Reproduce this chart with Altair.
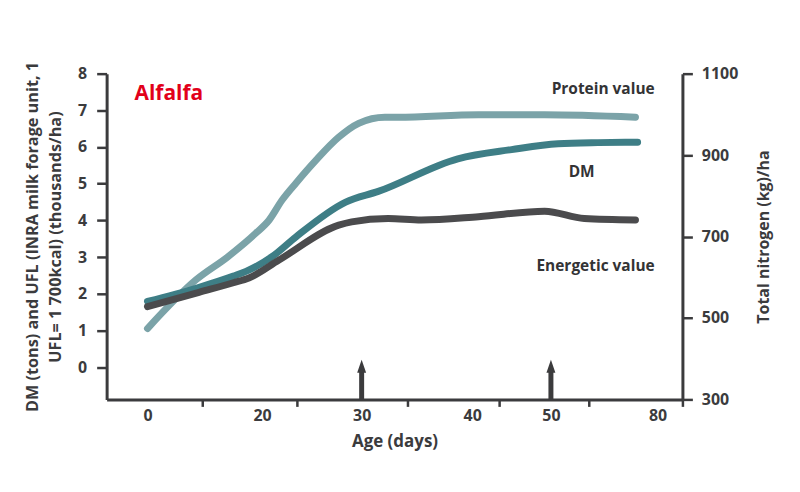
import altair as alt
import pandas as pd

# ---------------- data ----------------
AGE_LABELS = [0, 20, 30, 40, 50, 80]
AGE_MINOR_TICKS = [9.6, 23.5, 34.1, 43.4, 60.7, 87]
# the printed age axis is not linear: piecewise mapping of days -> plot pixels
X_DOMAIN = [-7.13, 0, 20, 30, 40, 50, 80, 87]
X_RANGE = [0, 41, 156, 256, 367, 446, 553, 578]

protein_days = [0, 8.5, 14.0, 18.9, 20.7, 22.0, 23.4, 25.4, 27.7, 29.7, 32.1, 33.3, 40.8, 49.2, 73.8]
protein_nitrogen = [474, 594, 650, 708, 740, 789, 831, 887, 944, 978, 993, 993, 999, 999, 993]

dm_days = [0, 8.5, 15.0, 17.2, 21.0, 23.4, 28.4, 31.5, 38.7, 45.0, 52.0, 63.2, 74.4]
dm_values = [1.79, 2.15, 2.48, 2.61, 3.01, 3.55, 4.50, 4.79, 5.68, 5.93, 6.09, 6.12, 6.13]

energy_days = [0, 9.0, 15.0, 17.7, 21.7, 27.7, 29.0, 32.4, 35.4, 40.8, 49.2, 59.4, 73.8]
energy_values = [1.65, 2.04, 2.30, 2.43, 2.92, 3.87, 3.96, 4.05, 4.01, 4.10, 4.25, 4.05, 4.01]

cut_days = [30, 50]

LEFT_TICKS = [0, 1, 2, 3, 4, 5, 6, 7, 8]
RIGHT_TICKS = [300, 500, 700, 900, 1100]

series_labels = ["Protein value", "DM", "Energetic value"]
series_label_day = [79.2, 62.3, 79.2]
series_label_value = [7.57, 5.31, 2.76]

# ---------------- styling ----------------
FONT = "Open Sans"
AXIS_COLOR = "#3b3b3d"
TEXT_COLOR = "#333335"
C_PROTEIN = "#7ba3a8"
C_DM = "#3e7e86"
C_ENERGY = "#4b4b4d"
RED = "#e2001a"
W, H = 578, 327

protein = pd.DataFrame({"day": protein_days, "n": protein_nitrogen})
dm = pd.DataFrame({"day": dm_days, "v": dm_values})
energy = pd.DataFrame({"day": energy_days, "v": energy_values})
cuts = pd.DataFrame({"day": cut_days, "base": [-0.88] * len(cut_days), "top": [-0.04] * len(cut_days)})
labels = pd.DataFrame({"t": series_labels, "day": series_label_day, "v": series_label_value})
title_df = pd.DataFrame({"t": ["Alfalfa"], "day": [-2.26], "v": [7.27]})

x_scale = alt.Scale(domain=X_DOMAIN, range=X_RANGE, nice=False, zero=False)
yl_scale = alt.Scale(domain=[-0.88, 8], nice=False, zero=False)
yr_scale = alt.Scale(domain=[300, 1100], nice=False, zero=False)

is_label = "indexof([0,20,30,40,50,80], datum.value) >= 0"

x_axis = alt.Axis(
    values=sorted(AGE_LABELS + AGE_MINOR_TICKS),
    labelExpr=f"{is_label} ? datum.label : ''",
    tickOpacity={"condition": {"test": is_label, "value": 0}, "value": 1},
    title="Age (days)",
    grid=False,
    labelOverlap=False,
    labelFlush=False,
    tickSize=7,
    tickWidth=2.5,
    labelPadding=1,
    titlePadding=10,
    titleFontSize=17,
    domainWidth=3,
)

line_props = dict(strokeWidth=7, strokeCap="round", strokeJoin="round", interpolate="monotone")

protein_layer = alt.Chart(protein).mark_line(color=C_PROTEIN, **line_props).encode(
    x=alt.X("day:Q", scale=x_scale, axis=x_axis),
    y=alt.Y("n:Q", scale=yr_scale, axis=alt.Axis(
        orient="right", values=RIGHT_TICKS, format="d", title="Total nitrogen (kg)/ha",
        grid=False, tickSize=10, tickWidth=2.5, labelPadding=9, domainWidth=3,
        titleAngle=270, titleBaseline="top", titlePadding=18, titleFontSize=16,
    )),
)

dm_layer = alt.Chart(dm).mark_line(color=C_DM, **line_props).encode(
    x=alt.X("day:Q", scale=x_scale, axis=None),
    y=alt.Y("v:Q", scale=yl_scale, axis=alt.Axis(
        values=LEFT_TICKS,
        title=["DM (tons) and UFL (INRA milk forage unit, 1", "UFL= 1 700kcal) (thousands/ha)"],
        grid=False, tickSize=10, tickWidth=2.5, labelPadding=10, domainWidth=3,
        titlePadding=14, titleLineHeight=23, titleFontSize=16.3,
    )),
)

energy_layer = alt.Chart(energy).mark_line(color=C_ENERGY, **line_props).encode(
    x=alt.X("day:Q", scale=x_scale, axis=None),
    y=alt.Y("v:Q", scale=yl_scale, axis=None),
)

arrow_shaft = alt.Chart(cuts).mark_rule(color=AXIS_COLOR, strokeWidth=5).encode(
    x=alt.X("day:Q", scale=x_scale, axis=None),
    y=alt.Y("base:Q", scale=yl_scale, axis=None),
    y2="top:Q",
)
arrow_head = alt.Chart(cuts).mark_point(
    shape="M0,-1L0.5,0.45L-0.5,0.45Z", filled=True, opacity=1, size=324, color=AXIS_COLOR
).encode(
    x=alt.X("day:Q", scale=x_scale, axis=None),
    y=alt.Y("top:Q", scale=yl_scale, axis=None),
)

label_layer = alt.Chart(labels).mark_text(
    align="right", baseline="middle", font=FONT, fontSize=15.5, fontWeight="bold", color=TEXT_COLOR
).encode(
    x=alt.X("day:Q", scale=x_scale, axis=None),
    y=alt.Y("v:Q", scale=yl_scale, axis=None),
    text="t:N",
)

title_layer = alt.Chart(title_df).mark_text(
    align="left", baseline="alphabetic", font=FONT, fontSize=21, fontWeight="bold", color=RED
).encode(
    x=alt.X("day:Q", scale=x_scale, axis=None),
    y=alt.Y("v:Q", scale=yl_scale, axis=None),
    text="t:N",
)

left_group = alt.layer(
    dm_layer, energy_layer, arrow_shaft, arrow_head, label_layer, title_layer
).resolve_axis(x="independent", y="independent")

chart = (
    alt.layer(protein_layer, left_group)
    .resolve_scale(y="independent")
    .resolve_axis(x="independent", y="independent")
    .properties(
        width=W, height=H,
        autosize=alt.AutoSizeParams(type="none"),
        padding={"left": 99, "top": 65, "right": 110, "bottom": 80},
    )
    .configure_view(stroke=None)
    .configure_axis(
        domainColor=AXIS_COLOR, tickColor=AXIS_COLOR,
        labelColor=AXIS_COLOR, titleColor=AXIS_COLOR,
        labelFont=FONT, titleFont=FONT,
        labelFontSize=16, titleFontSize=15,
        labelFontWeight="bold", titleFontWeight="bold",
    )
)

chart.save("out.html", embed_options={"renderer": "svg", "actions": False})
